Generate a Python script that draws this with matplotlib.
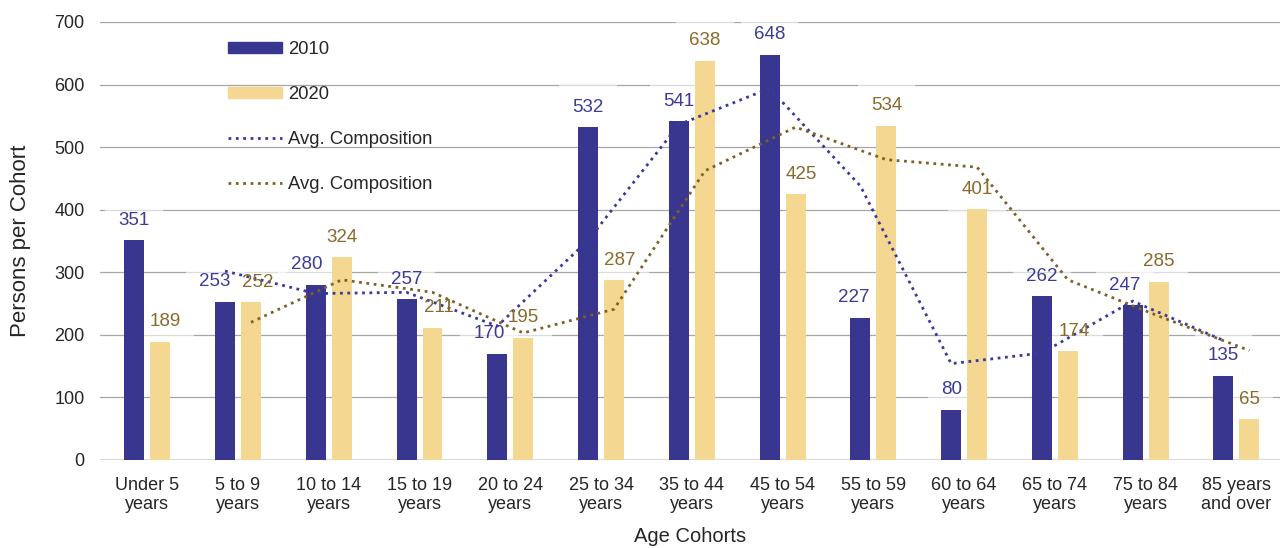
import numpy as np
import matplotlib.pyplot as plt
from matplotlib.patches import Patch
from matplotlib.lines import Line2D

plt.rcParams['font.family'] = ['Liberation Sans', 'DejaVu Sans']

# Age cohorts and persons per cohort
cohorts = ["Under 5\nyears", "5 to 9\nyears", "10 to 14\nyears", "15 to 19\nyears",
           "20 to 24\nyears", "25 to 34\nyears", "35 to 44\nyears", "45 to 54\nyears",
           "55 to 59\nyears", "60 to 64\nyears", "65 to 74\nyears", "75 to 84\nyears",
           "85 years\nand over"]
persons_2010 = [351, 253, 280, 257, 170, 532, 541, 648, 227, 80, 262, 247, 135]
persons_2020 = [189, 252, 324, 211, 195, 287, 638, 425, 534, 401, 174, 285, 65]

# Avg. composition lines (start at the second cohort)
avg_2010 = [302, 266, 268, 214, 351, 536, 594, 438, 154, 171, 254, 191]
avg_2020 = [220, 288, 268, 203, 241, 462, 532, 480, 468, 288, 230, 175]

# sideways nudges for the value labels, in pixels
nudge_2010 = [0, -10, -9, 0, -8, 0, 0, 0, -7, 0, 0, -8, 0]
nudge_2020 = [5, 7, 0, 6, 0, 6, 0, 6, 0, 0, 6, 0, 0]

navy = '#38368F'
sand = '#F4D892'
navy_txt = '#3C3B98'
sand_txt = '#8A6A2B'
navy_dot = '#3A3A9C'
sand_dot = '#7F6128'

fig = plt.figure(figsize=(12.8, 5.48), dpi=100)
ax = fig.add_axes([100 / 1280, 88 / 548, 1180 / 1280, 438 / 548])

x = np.arange(len(cohorts))
w = 0.22
off = 0.143

ax.bar(x - off, persons_2010, w, color=navy, zorder=2)
ax.bar(x + off, persons_2020, w, color=sand, zorder=2)

ax.plot(x[1:] - off, avg_2010, linestyle=':', color=navy_dot, lw=2.0, zorder=3)
ax.plot(x[1:] + off, avg_2020, linestyle=':', color=sand_dot, lw=2.0, zorder=3)


def value_label(xpos, val, dx, color):
    pos = dict(xy=(xpos, val), xytext=(dx * 0.72, 14.4), textcoords='offset points',
               ha='center', va='center', fontsize=13.5)
    # faded white patch behind the number (softens gridlines)
    ax.annotate(str(val), color='none', zorder=1.5,
                bbox=dict(boxstyle='square,pad=0.7', fc='white', ec='none', alpha=0.6),
                **pos)
    ax.annotate(str(val), color=color, zorder=5, **pos)


for i in range(len(cohorts)):
    value_label(x[i] - off, persons_2010[i], nudge_2010[i], navy_txt)
    value_label(x[i] + off, persons_2020[i], nudge_2020[i], sand_txt)

ax.set_xlim(-0.52, 12.48)
ax.set_ylim(0, 700)
ax.set_yticks(range(0, 701, 100))
ax.set_xticks(x)
ax.set_xticklabels(cohorts)
ax.tick_params(axis='both', length=0, labelsize=13, colors='#262626')
ax.tick_params(axis='x', pad=12)
ax.tick_params(axis='y', pad=11)

ax.yaxis.grid(True, color='#a6a6a6', lw=0.9, zorder=0)
ax.set_axisbelow(True)
ax.axhline(0, color='#d9d9d9', lw=2.2, zorder=1)
for s in ax.spines.values():
    s.set_visible(False)

ax.set_xlabel("Age Cohorts", fontsize=14.5, color='#262626', labelpad=10)
ax.set_ylabel("Persons per Cohort", fontsize=16, color='#262626', labelpad=17)

handles = [Patch(color=navy), Patch(color=sand),
           Line2D([], [], linestyle=':', color=navy_dot, lw=2.0),
           Line2D([], [], linestyle=':', color=sand_dot, lw=2.0)]
labels = ["2010", "2020", "Avg. Composition", "Avg. Composition"]
ax.legend(handles, labels, loc='upper left', bbox_to_anchor=(0.1085, 0.956),
          frameon=False, fontsize=13.3, borderpad=0, borderaxespad=0,
          handlelength=2.9, handleheight=0.55, handletextpad=0.35,
          labelspacing=1.51, labelcolor='#262626')

fig.savefig('out.png', dpi=100)
